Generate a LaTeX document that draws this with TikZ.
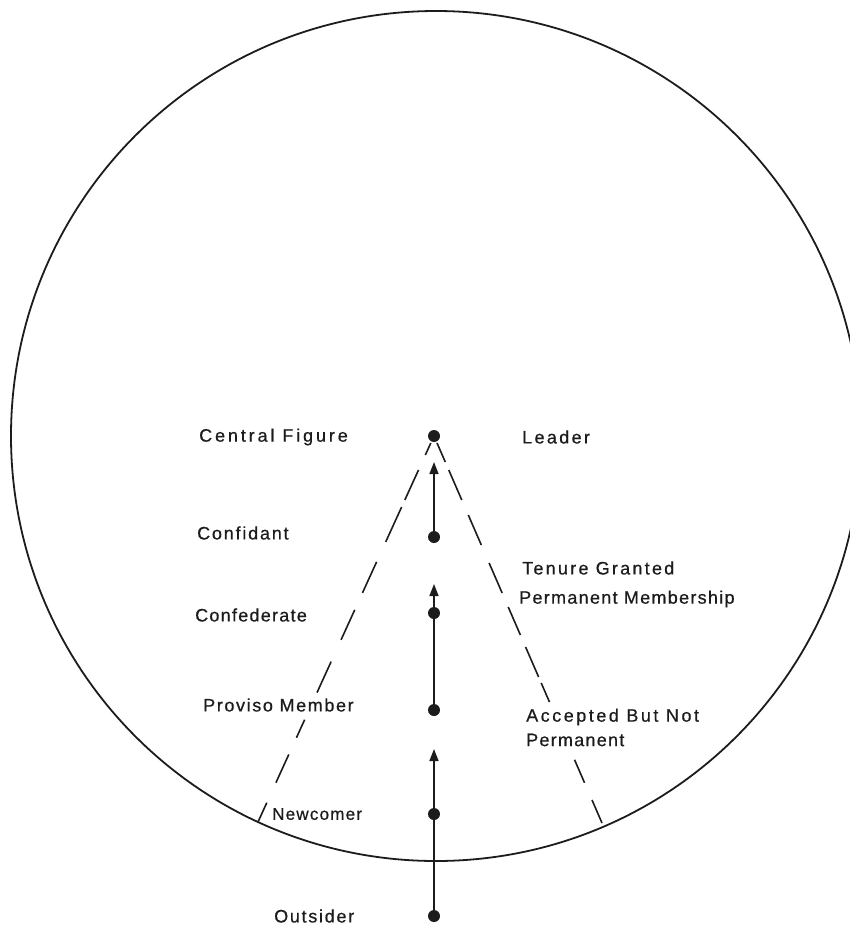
\documentclass[tikz,border=0pt]{standalone}
\usepackage{fontspec}
\setmainfont{Liberation Sans}[FakeBold=0.6]
\usetikzlibrary{arrows.meta}
\definecolor{ink}{HTML}{1C1C1C}
\tikzset{
  dotnode/.style={circle,fill=ink,inner sep=0pt,minimum size=12pt},
  shaft/.style={draw=ink,line width=1.6pt,-{Triangle[length=12pt,width=9pt]}},
  dashline/.style={draw=ink,line width=1.6pt},
  leftdash/.style={dash pattern=on 0pt off 7.7pt on 13.2pt off 16.4pt on 33pt off 7.7pt on 38.4pt off 21.9pt on 34.1pt off 18.6pt on 33pt off 24pt on 34pt off 29.8pt on 19.8pt off 18.4pt on 31pt off 22pt on 40pt},
  rightdash/.style={dash pattern=on 0pt off 7.6pt on 20.7pt off 8.8pt on 32.7pt off 16.3pt on 32.7pt off 19.6pt on 32.7pt off 15.3pt on 30.5pt off 13.1pt on 32.7pt off 6.5pt on 20.8pt off 63pt on 25pt off 18.8pt on 40pt},
  lab/.style={anchor=west,inner sep=0pt,text=ink,font=\fontsize{18}{20}\selectfont}
}
\newcommand{\ls}[2]{{\addfontfeature{LetterSpace=#1}#2}}
\begin{document}
\begin{tikzpicture}[x=1pt,y=-1pt]
\useasboundingbox (0,0) rectangle (850,927);
\clip (0,0) rectangle (850,927);
\coordinate (c) at (436,436);
\draw[ink,line width=1.8pt] (c) circle[radius=425];
% dots
\node[dotnode] (d1) at (434,436) {};
\node[dotnode] (d2) at (434,537) {};
\node[dotnode] (d3) at (434,613) {};
\node[dotnode] (d4) at (434,710) {};
\node[dotnode] (d5) at (434,814) {};
\node[dotnode] (d6) at (434,916) {};
% arrow tips
\coordinate (t1) at (434,462);
\coordinate (t2) at (434,584);
\coordinate (t3) at (434,749);
\draw[shaft] (d2) -- (t1);
\draw[shaft] (d4) -- (t2);
\draw[shaft] (d6) -- (t3);
% dashed lines
\coordinate (L) at (258,822);
\coordinate (R) at (602,823);
\draw[dashline,leftdash] (d1.center) -- (L);
\draw[dashline,rightdash] (d1.center) -- (R);
% labels
\node[lab] (central) at (199,437) {\ls{16}{Central Figure}};
\node[lab] (leader) at (522,437) {\ls{13}{Leader}};
\node[lab] (confidant) at (197,533) {\ls{10}{Confidant}};
\node[lab] (tenure) at (522,568) {\ls{12.5}{Tenure Granted}};
\node[lab] (permmem) at (519,599) {\ls{7.2}{Permanent Membership}};
\node[lab] (confed) at (195,615) {\ls{7}{Confederate}};
\node[lab] (proviso) at (203,705) {\ls{9}{Proviso Member}};
\node[lab] (accepted) at (526,717) {\ls{14}{Accepted But Not}};
\node[lab] (perm) at (526,740) {\ls{7}{Permanent}};
\node[lab,font=\fontsize{17}{19}\selectfont] (newcomer) at (272,814) {\ls{7.2}{Newcomer}};
\node[lab] (outsider) at (274,916) {\ls{9.5}{Outsider}};
\end{tikzpicture}
\end{document}
